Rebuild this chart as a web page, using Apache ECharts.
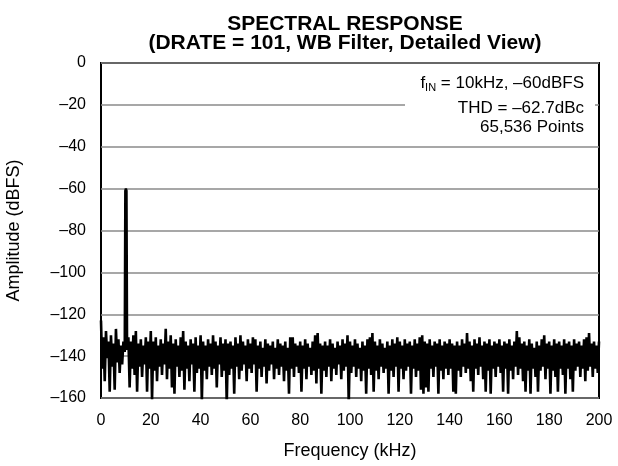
<!DOCTYPE html>
<html>
<head>
<meta charset="utf-8">
<script src="https://cdn.jsdelivr.net/npm/echarts@6/dist/echarts.min.js"></script>
<style>
  html, body { margin: 0; padding: 0; background: #fff; }
  #chart { width: 618px; height: 466px; }
</style>
</head>
<body>
<div id="chart"></div>
<script>
// FFT bin spacing of the plotted spectrum (kHz)
const BIN_KHZ = 0.5;

// Noise floor amplitude (dBFS), one value per bin from 0 to 200 kHz
const noiseAmp = [
  // 0 - 19.5 kHz
  -123,-146, -131,-152, -128,-141, -133,-157, -130,-145, -134,-156, -127,-143, -132,-148, -135,-144, -133,-138,
  -133,-137, -131,-155, -133,-146, -130,-149, -128,-157, -134,-145, -132,-150, -135,-144, -131,-157, -133,-146,
  // 20 - 39.5 kHz
  -128,-161, -133,-147, -131,-152, -135,-145, -132,-149, -134,-144, -127,-151, -133,-146, -130,-155, -134,-158,
  -132,-145, -135,-150, -131,-147, -128,-156, -133,-146, -135,-152, -132,-144, -134,-157, -131,-148, -135,-146,
  // 40 - 59.5 kHz
  -130,-162, -133,-147, -135,-151, -132,-145, -134,-149, -130,-146, -133,-155, -135,-144, -131,-150, -134,-147,
  -132,-163, -134,-149, -133,-146, -135,-158, -131,-145, -134,-151, -130,-147, -133,-144, -135,-152, -132,-146,
  // 60 - 79.5 kHz
  -134,-148, -131,-144, -132,-157, -135,-146, -133,-150, -136,-145, -132,-153, -134,-147, -135,-144, -133,-151,
  -136,-146, -132,-149, -134,-145, -135,-152, -133,-147, -136,-158, -131,-146, -131,-150, -134,-145, -135,-148,
  // 80 - 99.5 kHz
  -133,-157, -135,-146, -132,-151, -134,-145, -136,-149, -133,-147, -130,-153, -129,-146, -134,-158, -135,-147,
  -133,-150, -135,-145, -132,-152, -134,-146, -136,-149, -133,-144, -135,-151, -132,-147, -134,-145, -130,-163,
  // 100 - 119.5 kHz
  -133,-148, -135,-145, -132,-150, -134,-146, -136,-152, -133,-147, -135,-158, -132,-146, -131,-149, -129,-157,
  -133,-147, -135,-151, -132,-145, -134,-148, -136,-146, -133,-158, -135,-147, -132,-150, -134,-145, -131,-157,
  // 120 - 139.5 kHz
  -133,-146, -135,-151, -132,-147, -134,-145, -133,-158, -135,-146, -132,-150, -134,-147, -131,-156, -130,-158,
  -133,-155, -134,-157, -132,-146, -135,-150, -133,-145, -134,-158, -132,-147, -135,-151, -133,-146, -134,-149,
  // 140 - 159.5 kHz
  -132,-146, -134,-157, -135,-158, -133,-147, -135,-150, -132,-145, -134,-148, -129,-146, -133,-152, -135,-157,
  -132,-146, -134,-149, -131,-145, -135,-151, -133,-157, -134,-147, -132,-158, -135,-146, -133,-150, -134,-145,
  // 160 - 179.5 kHz
  -132,-148, -135,-157, -133,-146, -134,-158, -132,-147, -135,-151, -133,-145, -128,-149, -131,-146, -134,-152,
  -133,-157, -135,-147, -132,-158, -134,-146, -136,-150, -133,-157, -135,-147, -132,-145, -130,-151, -134,-146,
  // 180 - 200 kHz
  -133,-158, -135,-147, -132,-150, -134,-157, -133,-146, -135,-149, -132,-158, -134,-146, -133,-151, -135,-157,
  -132,-147, -134,-145, -133,-150, -135,-146, -132,-152, -131,-147, -129,-145, -134,-150, -133,-146, -135,-148,
  -133
];

// Input tone at 10 kHz, -60 dBFS
const toneFreq = [9.5, 9.75, 10, 10.25, 10.5];
const toneAmp  = [-138, -61, -60, -61, -137];

// Axis ticks
const freqTicks = { min: 0, max: 200, step: 20 };
const ampTicks  = { min: -160, max: 0, step: 20 };

// Annotation lines
const titleLines = ['SPECTRAL RESPONSE', '(DRATE = 101, WB Filter, Detailed View)'];
const noteLines = ['THD = \u201362.7dBc', '65,536 Points'];

const FONT = '"Liberation Sans", Arial, Helvetica, sans-serif';
const dash = v => String(v).replace('-', '\u2013');

const noiseData = noiseAmp.map((v, i) => [i * BIN_KHZ, v]);
const toneData = toneFreq.map((f, i) => [f, toneAmp[i]]);

const chart = echarts.init(document.getElementById('chart'), null, { renderer: 'canvas' });
chart.setOption({
  animation: false,
  backgroundColor: '#fff',
  title: {
    text: titleLines.join('\n'),
    left: 340,
    textAlign: 'center',
    top: 10,
    textStyle: { fontFamily: FONT, fontSize: 21, fontWeight: 'bold', color: '#000', lineHeight: 19 }
  },
  grid: {
    left: 101, right: 19, top: 63, bottom: 68,
    outerBoundsMode: 'none',
    show: true, borderColor: '#000', borderWidth: 2, backgroundColor: 'transparent'
  },
  xAxis: {
    type: 'value',
    min: freqTicks.min, max: freqTicks.max, interval: freqTicks.step,
    name: 'Frequency (kHz)', nameLocation: 'middle', nameGap: 44,
    nameTextStyle: { fontFamily: FONT, fontSize: 18, color: '#000' },
    axisLine: { show: false }, axisTick: { show: false }, splitLine: { show: false },
    axisLabel: { fontFamily: FONT, fontSize: 16, color: '#000', margin: 15 }
  },
  yAxis: {
    type: 'value',
    min: ampTicks.min, max: ampTicks.max, interval: ampTicks.step,
    name: 'Amplitude (dBFS)', nameLocation: 'middle', nameGap: 78, nameRotate: 90,
    nameTextStyle: { fontFamily: FONT, fontSize: 18, color: '#000' },
    axisLine: { show: false }, axisTick: { show: false },
    splitLine: { show: true, lineStyle: { color: '#8a8a8a', width: 1.5 } },
    axisLabel: { fontFamily: FONT, fontSize: 16, color: '#000', margin: 15, formatter: dash }
  },
  series: [
    {
      type: 'line', data: noiseData, showSymbol: false, symbol: 'none',
      lineStyle: { color: '#000', width: 2.6 }, sampling: null, z: 3
    },
    {
      type: 'line', data: toneData, showSymbol: false, symbol: 'none',
      lineStyle: { color: '#000', width: 2.4 }, z: 4
    }
  ],
  graphic: [
    {
      type: 'rect', z: 50,
      shape: { x: 405, y: 65, width: 190, height: 76 },
      style: { fill: '#fff' }
    },
    {
      type: 'text', z: 51, x: 584, y: 83,
      style: {
        text: '{n|f}{s|IN}{n| = 10kHz, \u201360dBFS}',
        align: 'right', verticalAlign: 'middle',
        rich: {
          n: { fontFamily: FONT, fontSize: 17, fill: '#000', lineHeight: 20 },
          s: { fontFamily: FONT, fontSize: 11, fill: '#000', lineHeight: 20, padding: [9, 0, 0, 0] }
        }
      }
    },
    {
      type: 'text', z: 51, x: 584, y: 108,
      style: { text: noteLines[0], align: 'right', verticalAlign: 'middle', font: '17px ' + FONT, fill: '#000' }
    },
    {
      type: 'text', z: 51, x: 584, y: 127,
      style: { text: noteLines[1], align: 'right', verticalAlign: 'middle', font: '17px ' + FONT, fill: '#000' }
    }
  ]
});
</script>
</body>
</html>
